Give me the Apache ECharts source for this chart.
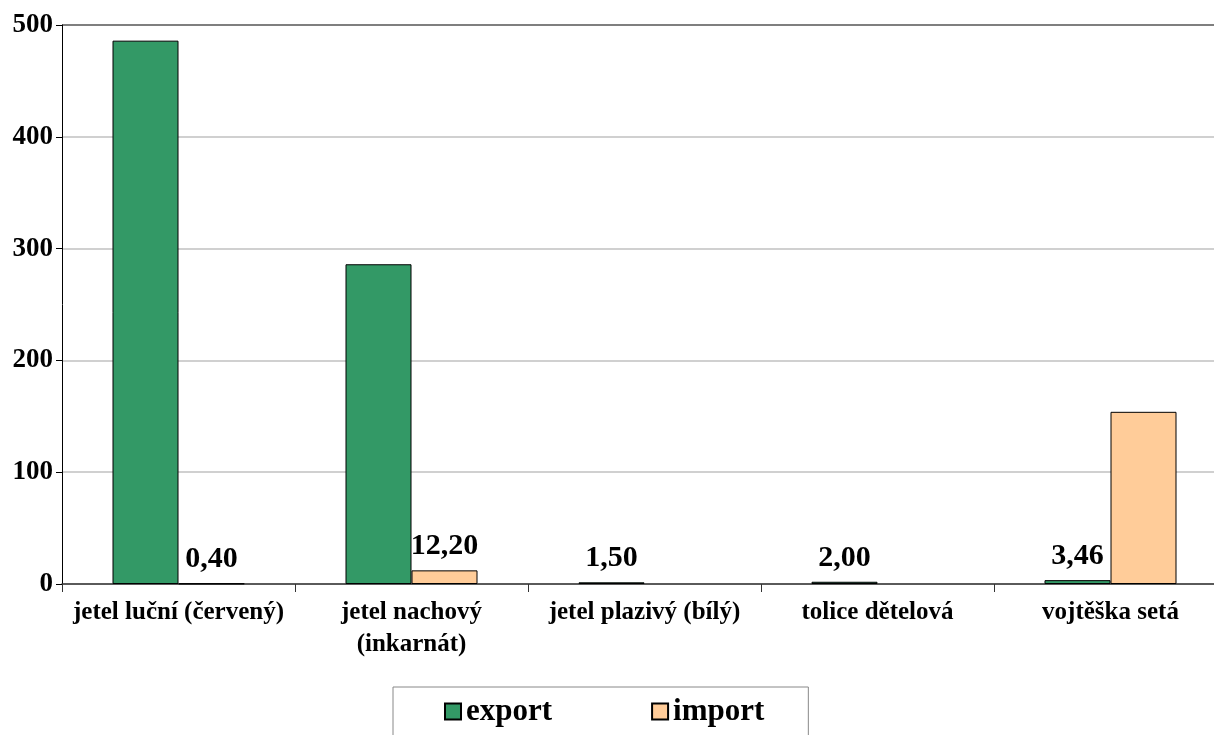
<!DOCTYPE html>
<html>
<head>
<meta charset="utf-8">
<script src="https://cdn.jsdelivr.net/npm/echarts@6/dist/echarts.min.js"></script>
<style>
  html, body { margin: 0; padding: 0; background: #fff; }
  #chart { width: 1214px; height: 735px; }
</style>
</head>
<body>
<div id="chart"></div>
<script>
  // kategorie a hodnoty
  const categories = ['jetel luční (červený)', 'jetel nachový\n(inkarnát)', 'jetel plazivý (bílý)', 'tolice dětelová', 'vojtěška setá']
  const exportValues = [486, 286, 1.5, 2.0, 3.46]
  const importValues = [0.4, 12.2, null, null, 154]
  // ktere hodnoty maji popisek
  const exportLabeled = [false, false, true, true, true]
  const importLabeled = [true, true, false, false, false]
  const yTicks = [0, 100, 200, 300, 400, 500]

  const font = '"Liberation Serif", "Times New Roman", serif'

  const fmt = p => p.value.toFixed(2).replace('.', ',')

  function toData(values, labeled) {
    return values.map((v, i) => ({
      value: v,
      label: { show: labeled[i] }
    }))
  }

  const chart = echarts.init(document.getElementById('chart'))
  chart.setOption({
    animation: false,
    textStyle: { fontFamily: font },
    // plocha grafu pokracuje kousek za pravy okraj
    grid: { left: 62, width: 1165, top: 25, bottom: 151, containLabel: false, outerBoundsMode: 'none' },
    legend: {
      top: 687,
      left: 393,
      padding: [9, 44, 20, 51],
      itemGap: 99,
      itemWidth: 16,
      itemHeight: 16,
      icon: 'rect',
      borderColor: '#888',
      borderWidth: 1,
      textStyle: { fontFamily: font, fontWeight: 'bold', fontSize: 31, color: '#000' },
      data: ['export', 'import']
    },
    xAxis: {
      type: 'category',
      data: categories,
      axisLine: { lineStyle: { color: '#333', width: 1.5 } },
      axisTick: { show: true, length: 8, lineStyle: { color: '#333' } },
      axisLabel: {
        color: '#000', fontFamily: font, fontWeight: 'bold', fontSize: 25,
        lineHeight: 32, margin: 13, interval: 0
      }
    },
    yAxis: {
      type: 'value',
      min: 0,
      max: yTicks[yTicks.length - 1],
      interval: 100,
      axisLine: { show: true, lineStyle: { color: '#000', width: 1 } },
      axisTick: { show: true, length: 6, lineStyle: { color: '#000' } },
      axisLabel: { color: '#000', fontFamily: font, fontWeight: 'bold', fontSize: 27, margin: 9 },
      splitLine: { lineStyle: { color: ['#c0c0c0', '#c0c0c0', '#c0c0c0', '#c0c0c0', '#c0c0c0', '#555'], width: 1.5 } }
    },
    series: [
      {
        name: 'export',
        type: 'bar',
        data: toData(exportValues, exportLabeled),
        barWidth: 66,
        barGap: '0%',
        itemStyle: { color: '#339966', borderColor: '#000', borderWidth: 1 },
        label: {
          position: 'top', distance: 9, formatter: fmt,
          color: '#000', fontFamily: font, fontWeight: 'bold', fontSize: 30
        }
      },
      {
        name: 'import',
        type: 'bar',
        data: toData(importValues, importLabeled),
        barWidth: 66,
        itemStyle: { color: '#FFCC99', borderColor: '#000', borderWidth: 1 },
        label: {
          position: 'top', distance: 9, formatter: fmt,
          color: '#000', fontFamily: font, fontWeight: 'bold', fontSize: 30
        }
      }
    ]
  })
</script>
</body>
</html>
